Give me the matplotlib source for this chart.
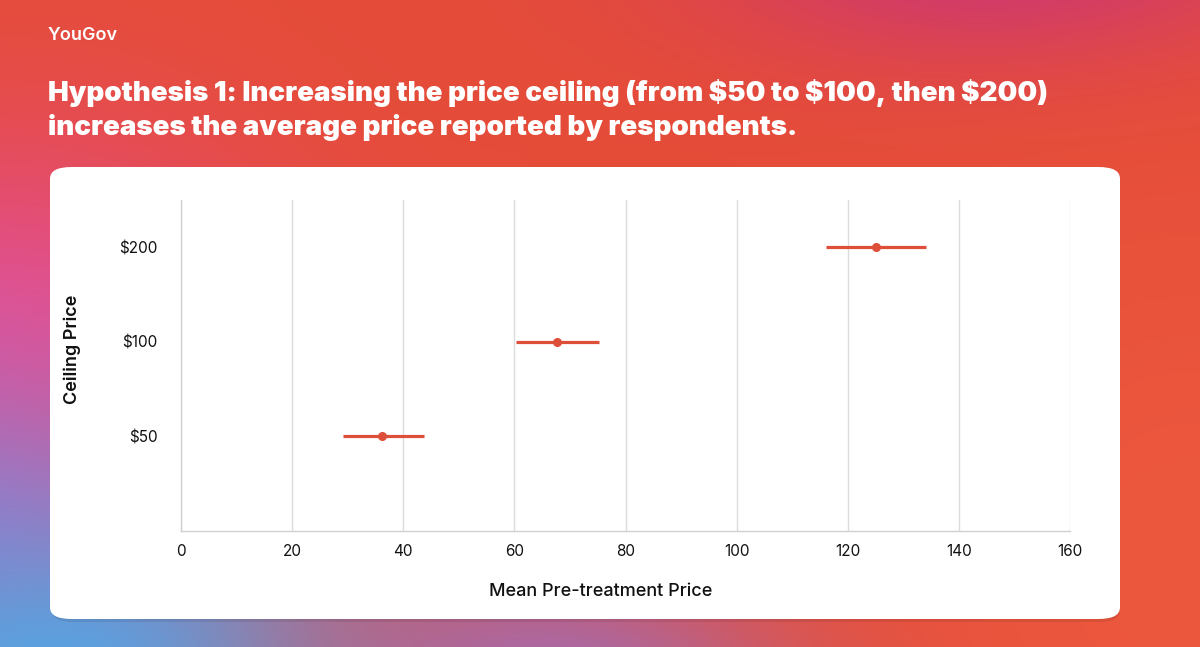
import numpy as np
import matplotlib
matplotlib.use("Agg")
import matplotlib.pyplot as plt
from matplotlib.patches import FancyBboxPatch

# ---- data ----
categories = ["$50", "$100", "$200"]
means = [36.2, 67.7, 125.1]
ci_low = [29.2, 60.3, 116.1]
ci_high = [43.7, 75.2, 134.1]
x_ticks = [0, 20, 40, 60, 80, 100, 120, 140, 160]

title = ("Hypothesis 1: Increasing the price ceiling (from \\$50 to \\$100, then \\$200)\n"
         "increases the average price reported by respondents.")

W, H = 1200, 647
fig = plt.figure(figsize=(W / 100, H / 100), dpi=100)

# ---- gradient background ----
yy, xx = np.mgrid[0:H, 0:W].astype(float)
base = np.array([229, 76, 56], float)
blobs = [
    ((0, 350), (190, 150), (230, 78, 145)),
    ((-40, 520), (170, 120), (170, 110, 190)),
    ((60, 670), (230, 110), (88, 162, 226)),
    ((560, 670), (170, 70), (168, 105, 168)),
    ((1000, -50), (200, 80), (205, 55, 115)),
    ((1200, 560), (250, 250), (236, 88, 62)),
]
img = np.tile(base, (H, W, 1))
for (cx, cy), (sx, sy), col in blobs:
    w = np.exp(-((xx - cx) ** 2 / (2 * sx ** 2) + (yy - cy) ** 2 / (2 * sy ** 2)))[..., None]
    img = img * (1 - w) + np.array(col, float) * w
bg = fig.add_axes([0, 0, 1, 1])
bg.imshow(np.clip(img, 0, 255).astype(np.uint8), aspect="auto", extent=[0, W, H, 0])
bg.set_xlim(0, W)
bg.set_ylim(H, 0)
bg.axis("off")

# ---- card ----
def fx(px):
    return px / W

def fy(py):
    return 1 - py / H

shadow = FancyBboxPatch((fx(52), fy(622)), fx(1120) - fx(52), fy(170) - fy(622),
                        boxstyle="round,pad=0,rounding_size=0.018",
                        transform=fig.transFigure, facecolor=(0, 0, 0, 0.08),
                        edgecolor="none", zorder=1)
fig.patches.append(shadow)
card = FancyBboxPatch((fx(50), fy(619)), fx(1120) - fx(50), fy(167) - fy(619),
                      boxstyle="round,pad=0,rounding_size=0.018",
                      transform=fig.transFigure, facecolor="white",
                      edgecolor="none", zorder=2)
fig.patches.append(card)

# ---- texts on background ----
fig.text(fx(48), fy(36), "YouGov", color="white", fontsize=13, fontweight="semibold",
         family="Inter", va="center", ha="left")
fig.text(fx(48), fy(110), title, color="white", fontsize=20, fontweight="black",
         family="Inter", va="center", ha="left", linespacing=1.3)

# ---- main axes ----
ax = fig.add_axes([fx(181), fy(531), fx(1070) - fx(181), fy(200) - fy(531)])
ax.set_facecolor("none")
ax.set_zorder(3)
ypos = np.arange(len(categories))
color = "#de4f3a"
means_a = np.array(means)
xerr = np.vstack([means_a - np.array(ci_low), np.array(ci_high) - means_a])
ax.errorbar(means, ypos, xerr=xerr, fmt="o", color=color, ecolor=color,
            elinewidth=2.3, markersize=5.5, capsize=0, zorder=3)

ax.set_xlim(0, 160)
ax.set_ylim(-1, 2.5)
ax.set_xticks(x_ticks)
ax.set_yticks(ypos)
ax.set_yticklabels(categories)
ax.grid(axis="x", color="#dcdcdc", linewidth=1)
ax.set_axisbelow(True)
for s in ["top", "right"]:
    ax.spines[s].set_visible(False)
for s in ["left", "bottom"]:
    ax.spines[s].set_color("#d0d0d0")
    ax.spines[s].set_linewidth(1)
ax.tick_params(axis="both", length=0, labelsize=11, colors="#111111")
ax.tick_params(axis="x", pad=9)
ax.tick_params(axis="y", pad=17)
for lbl in ax.get_xticklabels() + ax.get_yticklabels():
    lbl.set_family("Inter")

ax.set_xlabel("Mean Pre-treatment Price", fontsize=13, family="Inter",
              fontweight="medium", color="#111111")
ax.xaxis.set_label_coords((601 - 181) / 889, -(592 - 531) / 331)
ax.set_ylabel("Ceiling Price", fontsize=13, family="Inter", fontweight="semibold",
              color="#111111")
ax.yaxis.set_label_coords(-(181 - 72) / 889, (531 - 349) / 331)
ax.xaxis.label.set_va("center")
ax.yaxis.label.set_va("center")

fig.savefig("out.png", dpi=100)
